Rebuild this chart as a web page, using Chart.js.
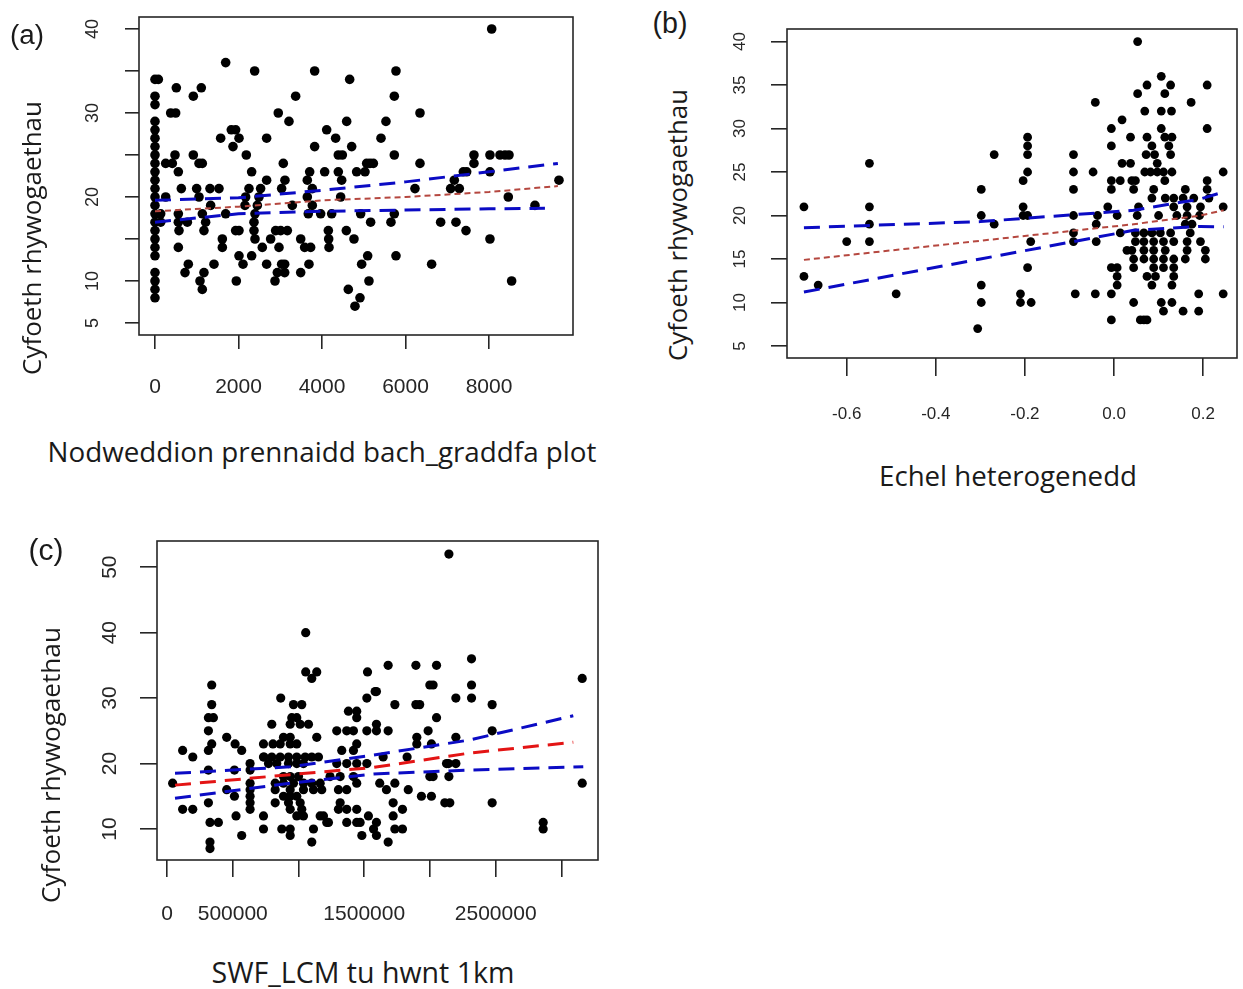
<!DOCTYPE html>
<html><head><meta charset="utf-8">
<script src="https://cdn.jsdelivr.net/npm/chart.js@4/dist/chart.umd.min.js"></script>
<style>
html,body{margin:0;padding:0;background:#fff;}
body{width:1243px;height:989px;position:relative;overflow:hidden;}
canvas{position:absolute;}
.t{position:absolute;white-space:nowrap;color:#1a1a1a;line-height:1;left:0;top:0;}
</style></head><body>
<canvas id="ca" width="560" height="420" style="left:40px;top:0px"></canvas>
<canvas id="cb" width="543" height="440" style="left:700px;top:0px"></canvas>
<canvas id="cc" width="560" height="420" style="left:60px;top:520px"></canvas>
<script>
// ---------- Panel (a) ----------
const aPts = [[0,34],[80,34],[0,32],[0,31],[0,29],[0,28],[0,27],[0,26],[0,25],[0,24],[0,23],[0,22],[0,21],[0,20],[0,19],[0,18],[0,17],[0,16],[0,15],[0,14],[0,13],[0,11],[0,10],[0,9],[0,8],
[1693,36],[2387,35],[3824,35],[4663,34],[511,33],[1109,33],[918,32],[3369,32],[376,30],[495,30],[2953,30],[3209,29],[4591,29],[4112,28],[1828,28],[1932,28],[1573,27],[2012,27],[2674,27],[4327,27],[1868,26],[3824,26],[4711,26],[479,25],[918,25],[2187,25],[4391,25],[4487,25],[256,24],[415,24],[1054,24],[1133,24],[3073,24],[559,23],[2315,23],[3705,23],[4064,23],[4391,23],[2674,22],[3113,22],[3648,22],[4471,22],[631,21],[998,21],[1317,21],[1533,21],[2251,21],[2530,21],[3033,21],[3768,21],[256,20],[1054,20],[2171,20],[2490,20],[3648,20],[4447,20],[1333,19],[2155,19],[2451,19],[3289,19],[3768,19],[136,18],[559,18],[1134,18],[1693,18],[2395,18],[3672,18],[3968,18],[4232,18],[136,17],[559,17],[775,17],[1213,17],[2371,17],[575,16],[1173,16],[1932,16],[2012,16],[2371,16],[2890,16],[3010,16],[3170,16],[4152,16],[4583,16],[1613,15],[2395,15],[2770,15],[3490,15],[4160,15],[4766,15],[559,14],[1613,14],[2570,14],[2970,14],[3585,14],[3728,14],[4168,14],[2012,13],[2315,13],[798,12],[1413,12],[2108,12],[2674,12],[3034,12],[3106,12],[3688,12],[719,11],[1173,11],[2930,11],[3106,11],[3490,11],[1078,10],[1948,10],[2874,10],[1133,9],[4630,9],[4910,8],[4790,7],
[8064,40],[5772,35],[5732,32],[6347,30],[5532,29],[5413,27],[5732,25],[7640,25],[8023,25],[8263,25],[8383,25],[8479,25],[6347,24],[7640,24],[5070,24],[5150,24],[5230,24],[4830,23],[5030,23],[7385,23],[7465,23],[8023,23],[7169,22],[9676,22],[6227,21],[7081,21],[7289,21],[8462,20],[9101,19],[4926,18],[5732,18],[5165,17],[5652,17],[6842,17],[7209,17],[7449,16],[8023,15],[5094,13],[5772,13],[4950,12],[6626,12],[5125,10],[8542,10]];
const aLineX  = [0, 2000, 4000, 6000, 8000, 9650];
const aUpper  = [19.6, 19.9, 20.8, 21.8, 23.0, 24.0];
const aFit    = [18.3, 18.85, 19.6, 20.0, 20.6, 21.3];
const aLowerX = [0, 2000, 4000, 6000, 8000, 9340];
const aLower  = [17.0, 18.0, 18.3, 18.45, 18.6, 18.65];
const aXTicks = [0, 2000, 4000, 6000, 8000];
const aYTicks = [5, 10, 15, 20, 25, 30, 35, 40];
const aYLabels = [5, 10, 20, 30, 40];

// ---------- Panel (b) ----------
const bPts = [[-0.696,21],[-0.696,13],[-0.664,12],[-0.6,17],[-0.549,26],[-0.549,21],[-0.549,19],[-0.549,17],[-0.489,11],[-0.298,23],[-0.298,20],[-0.298,12],[-0.298,10],[-0.306,7],[-0.269,27],[-0.269,19],
[-0.194,29],[-0.194,28],[-0.194,27],[-0.194,25],[-0.204,24],[-0.204,21],[-0.204,20],[-0.194,20],[-0.187,17],[-0.194,14],[-0.21,11],[-0.21,10],[-0.186,10],
[-0.091,27],[-0.091,25],[-0.091,23],[-0.091,20],[-0.091,18],[-0.091,17],[-0.087,11],
[-0.047,25],[-0.042,33],[-0.042,11],[-0.04,19],[-0.04,17],[-0.037,20],
[0.053,40],[0.106,36],[0.074,35],[0.127,35],[0.209,35],[0.053,34],[0.114,34],[0.173,33],[0.069,32],[0.106,32],[0.129,32],[0.018,31],[-0.006,30],[0.106,30],[0.209,30],[0.037,29],[0.074,29],[0.114,29],[0.130,29],[-0.006,28],[0.085,28],[0.123,28],[0.072,27],[0.091,27],[0.127,27],[0.018,26],[0.037,26],[0.097,26],[0.069,25],[0.082,25],[0.097,25],[0.111,25],[0.130,25],[0.245,25],[-0.006,24],[0.014,24],[0.040,24],[0.048,24],[0.114,24],[0.209,24],[-0.006,23],[0.044,23],[0.089,23],[0.160,23],[0.209,23],[0.085,22],[0.115,22],[0.134,22],[0.155,22],[0.179,22],[0.213,22],[-0.014,21],[0.055,21],[0.134,21],[0.164,21],[0.194,21],[0.245,21],[0.007,20],[0.052,20],[0.100,20],[0.141,20],[0.164,20],[0.192,20],[0.160,19],[0.175,19],[0.014,18],[0.048,18],[0.067,18],[0.085,18],[0.104,18],[0.127,18],[0.171,18],[0.048,17],[0.067,17],[0.089,17],[0.111,17],[0.134,17],[0.164,17],[0.194,17],[0.040,16],[0.067,16],[0.089,16],[0.115,16],[0.164,16],[0.205,16],[0.029,16],[0.044,15],[0.067,15],[0.089,15],[0.111,15],[0.134,15],[0.160,15],[0.205,15],[-0.006,14],[0.007,14],[0.044,14],[0.089,14],[0.111,14],[0.134,14],[0.007,13],[0.074,13],[0.093,13],[0.134,13],[0.007,12],[0.085,12],[0.130,12],[-0.006,11],[0.190,11],[0.245,11],[0.044,10],[0.106,10],[0.130,10],[0.111,9],[0.155,9],[0.190,9],[-0.006,8],[0.059,8],[0.067,8],[0.074,8]];
const bLineX = [-0.696, -0.3, 0.044, 0.194, 0.246];
const bUpper = [18.6, 19.3, 20.6, 21.9, 22.7];
const bFit   = [14.9, 17.1, 19.0, 20.0, 20.6];
const bLower = [11.2, 15.0, 18.3, 18.75, 18.7];
const bXTicks = [-0.6, -0.4, -0.2, 0.0, 0.2];
const bYTicks = [5, 10, 15, 20, 25, 30, 35, 40];

// ---------- Panel (c) ----------
const cPts = [[1055000,40],[1055000,34],[1139000,34],[1101000,33],[1525000,34],[1520000,30],[1583000,31],[340000,32],[340000,29],[315000,27],[353000,27],[315000,25],[340000,23],[315000,22],[315000,19],[315000,14],[327000,11],[391000,11],[327000,8],[327000,7],[119000,22],[196000,21],[43000,17],[119000,13],[196000,13],[454000,24],[518000,23],[568000,22],[513000,19],[454000,16],[513000,15],[525000,12],[568000,9],[632000,20],[632000,19],[632000,17],[632000,16],[632000,15],[632000,14],[632000,13],[734000,23],[734000,21],[734000,12],[734000,10],[797000,26],[865000,30],[962000,29],[1025000,29],[949000,27],[987000,27],[937000,26],[1013000,26],[1076000,26],[886000,24],[937000,24],[1139000,24],[806000,23],[861000,23],[937000,23],[987000,23],[738000,21],[797000,21],[861000,21],[924000,21],[987000,21],[1051000,21],[1101000,21],[1152000,21],[772000,20],[835000,20],[924000,20],[987000,20],[1038000,20],[886000,18],[937000,18],[1000000,18],[823000,17],[886000,17],[962000,17],[1038000,17],[1101000,17],[1165000,17],[823000,16],[937000,16],[1038000,16],[1114000,16],[1177000,16],[886000,15],[937000,15],[987000,15],[823000,14],[924000,14],[1013000,14],[937000,13],[1025000,13],[987000,12],[1038000,12],[1165000,12],[873000,10],[937000,10],[1114000,10],[1215000,11],[937000,9],[1101000,8],
[1291000,25],[1367000,25],[1418000,25],[1380000,28],[1443000,27],[1443000,28],[1520000,25],[1329000,22],[1418000,22],[1443000,23],[1291000,20],[1367000,20],[1443000,20],[1520000,20],[1240000,18],[1317000,18],[1418000,18],[1304000,16],[1367000,16],[1443000,17],[1317000,14],[1367000,13],[1304000,13],[1443000,13],[1190000,12],[1228000,11],[1367000,11],[1443000,11],[1469000,11],[1532000,12],[1482000,9],[1571000,10],
[2144000,52],[2316000,36],[1682000,35],[1893000,35],[2050000,35],[1999000,32],[2024000,32],[2316000,32],[3158000,33],[1593000,31],[1733000,29],[1893000,29],[1922000,29],[2197000,30],[2316000,30],[2473000,29],[2050000,27],[1593000,26],[1593000,25],[1682000,25],[1986000,25],[2197000,24],[2473000,25],[1900000,24],[1900000,23],[2011000,23],[1644000,21],[1826000,21],[2126000,20],[2141000,20],[2197000,20],[1999000,18],[2024000,18],[2144000,18],[1618000,17],[1669000,16],[1733000,17],[1835000,16],[3158000,17],[1935000,15],[2011000,15],[2113000,14],[2151000,14],[2473000,14],[1720000,14],[1791000,13],[1720000,12],[1593000,11],[1733000,10],[1791000,10],[1593000,9],[1682000,8],[2861000,11],[2861000,10]];
const cLineX  = [61000, 936000, 1571000, 2303000, 3090000];
const cUpper  = [18.5, 19.5, 21.3, 23.6, 27.3];
const cFit    = [16.7, 18.3, 19.4, 21.6, 23.25];
const cLowerX = [61000, 936000, 1571000, 2303000, 3166000];
const cLower  = [14.7, 17.0, 18.4, 19.0, 19.5];
const cXTicks = [0, 500000, 1000000, 1500000, 2000000, 2500000, 3000000];
const cXLabels = [0, 500000, 1500000, 2500000];
const cYTicks = [10, 20, 30, 40, 50];

const BLUE = '#0b0bc4', BROWN = '#b5473f', RED = '#e31414', INK = '#262626';

const boxPlugin = {
  id: 'box',
  afterDraw(chart) {
    const a = chart.chartArea, ctx = chart.ctx;
    ctx.save(); ctx.strokeStyle = INK; ctx.lineWidth = 1.6;
    ctx.strokeRect(a.left, a.top, a.right - a.left, a.bottom - a.top);
    ctx.restore();
  }
};

function xy(xs, ys) { return xs.map((x, i) => ({x: x, y: ys[i]})); }

function makeChart(id, o) {
  const lineDs = (data, color, dash, w) => ({type: 'scatter', data, showLine: true, borderColor: color, borderWidth: w, borderDash: dash, pointRadius: 0, fill: false, tension: 0});
  new Chart(document.getElementById(id), {
    type: 'scatter',
    data: {datasets: [
      lineDs(o.upper, BLUE, [16, 9], 3),
      lineDs(o.lower, BLUE, [16, 9], 3),
      lineDs(o.fit, o.fitColor, o.fitDash, o.fitW),
      {data: o.pts.map(p => ({x: p[0], y: p[1]})), pointRadius: o.r, pointBackgroundColor: '#000', pointBorderWidth: 0, showLine: false}
    ]},
    options: {
      responsive: false, animation: false, devicePixelRatio: 1,
      layout: {padding: o.padding},
      plugins: {legend: {display: false}, tooltip: {enabled: false}},
      scales: {
        x: {type: 'linear', min: o.xr[0], max: o.xr[1],
          afterBuildTicks: s => { s.ticks = o.xTicks.map(v => ({value: v})); },
          afterFit: s => { s.height = o.xH; s.paddingLeft = 0; s.paddingRight = 0; },
          border: {display: false},
          grid: {drawOnChartArea: false, drawTicks: true, tickLength: o.xTL, color: INK, lineWidth: 1.6},
          ticks: {autoSkip: false, maxRotation: 0, minRotation: 0, padding: o.xPad, color: INK,
            font: {family: 'Liberation Sans, Arial, sans-serif', size: o.xFS},
            callback: v => o.xLabel(v)}
        },
        y: {type: 'linear', min: o.yr[0], max: o.yr[1],
          afterBuildTicks: s => { s.ticks = o.yTicks.map(v => ({value: v})); },
          afterFit: s => { s.width = o.yW; s.paddingTop = 0; s.paddingBottom = 0; },
          border: {display: false},
          grid: {drawOnChartArea: false, drawTicks: true, tickLength: o.yTL, color: INK, lineWidth: 1.6},
          ticks: {autoSkip: false, minRotation: 90, maxRotation: 90, crossAlign: 'center', padding: o.yPad, color: INK,
            font: {family: 'Liberation Sans, Arial, sans-serif', size: o.yFS},
            callback: v => o.yLabel(v)}
        }
      }
    },
    plugins: [boxPlugin]
  });
}

makeChart('ca', {
  pts: aPts, upper: xy(aLineX, aUpper), lower: xy(aLowerX, aLower), fit: xy(aLineX, aFit),
  fitColor: BROWN, fitDash: [6, 4], fitW: 2, r: 4.8,
  xr: [-383, 10012], yr: [3.57, 41.43], xTicks: aXTicks, yTicks: aYTicks,
  xLabel: v => String(v), yLabel: v => aYLabels.includes(v) ? String(v) : '',
  padding: {left: 0, top: 17, right: 27, bottom: 0}, xH: 85, yW: 99,
  xTL: 14, xPad: 26, xFS: 21, yTL: 14, yPad: 22, yFS: 18
});
makeChart('cb', {
  pts: bPts, upper: xy(bLineX, bUpper), lower: xy(bLineX, bLower), fit: xy(bLineX, bFit),
  fitColor: BROWN, fitDash: [6, 4], fitW: 2, r: 4.4,
  xr: [-0.734, 0.276], yr: [3.62, 41.44], xTicks: bXTicks, yTicks: bYTicks,
  xLabel: v => v.toFixed(1), yLabel: v => String(v),
  padding: {left: 0, top: 29, right: 6, bottom: 0}, xH: 82, yW: 87,
  xTL: 18, xPad: 28, xFS: 17, yTL: 16, yPad: 21, yFS: 17
});
makeChart('cc', {
  pts: cPts, upper: xy(cLineX, cUpper), lower: xy(cLowerX, cLower), fit: xy(cLineX, cFit),
  fitColor: RED, fitDash: [16, 9], fitW: 3, r: 4.6,
  xr: [-76000, 3278000], yr: [5.26, 54.0], xTicks: cXTicks, yTicks: cYTicks,
  xLabel: v => cXLabels.includes(v) ? String(v) : '', yLabel: v => String(v),
  padding: {left: 0, top: 21, right: 22, bottom: 0}, xH: 80, yW: 97,
  xTL: 17, xPad: 25, xFS: 21, yTL: 17, yPad: 18, yFS: 21
});

// ---------- Text labels ----------
const texts = [
  {s: '(a)', cx: 27, cy: 35, w: 34, rot: 0, f: 'Liberation Sans'},
  {s: '(b)', cx: 670, cy: 23, w: 35, rot: 0, f: 'Liberation Sans'},
  {s: '(c)', cx: 46, cy: 550, w: 35, rot: 0, f: 'Liberation Sans'},
  {s: 'Cyfoeth rhywogaethau', cx: 32, cy: 238, w: 274, rot: -90, f: 'Open Sans'},
  {s: 'Cyfoeth rhywogaethau', cx: 678, cy: 225, w: 272, rot: -90, f: 'Open Sans'},
  {s: 'Cyfoeth rhywogaethau', cx: 50, cy: 765, w: 276, rot: -90, f: 'Open Sans'},
  {s: 'Nodweddion prennaidd bach_graddfa plot', cx: 322, cy: 452, w: 549, rot: 0, f: 'Open Sans'},
  {s: 'Echel heterogenedd', cx: 1008, cy: 476, w: 258, rot: 0, f: 'Open Sans'},
  {s: 'SWF_LCM tu hwnt 1km', cx: 363, cy: 972, w: 303, rot: 0, f: 'Open Sans'}
];
texts.forEach(t => {
  const d = document.createElement('div');
  d.className = 't'; d.textContent = t.s;
  d.style.fontFamily = "'" + t.f + "', sans-serif";
  d.style.fontSize = '100px';
  document.body.appendChild(d);
  const w0 = d.getBoundingClientRect().width;
  d.style.fontSize = (100 * t.w / w0).toFixed(2) + 'px';
  d.style.transform = 'translate(' + t.cx + 'px,' + t.cy + 'px) translate(-50%,-50%) rotate(' + t.rot + 'deg)';
  d.style.transformOrigin = '50% 50%';
});
</script>
</body></html>
